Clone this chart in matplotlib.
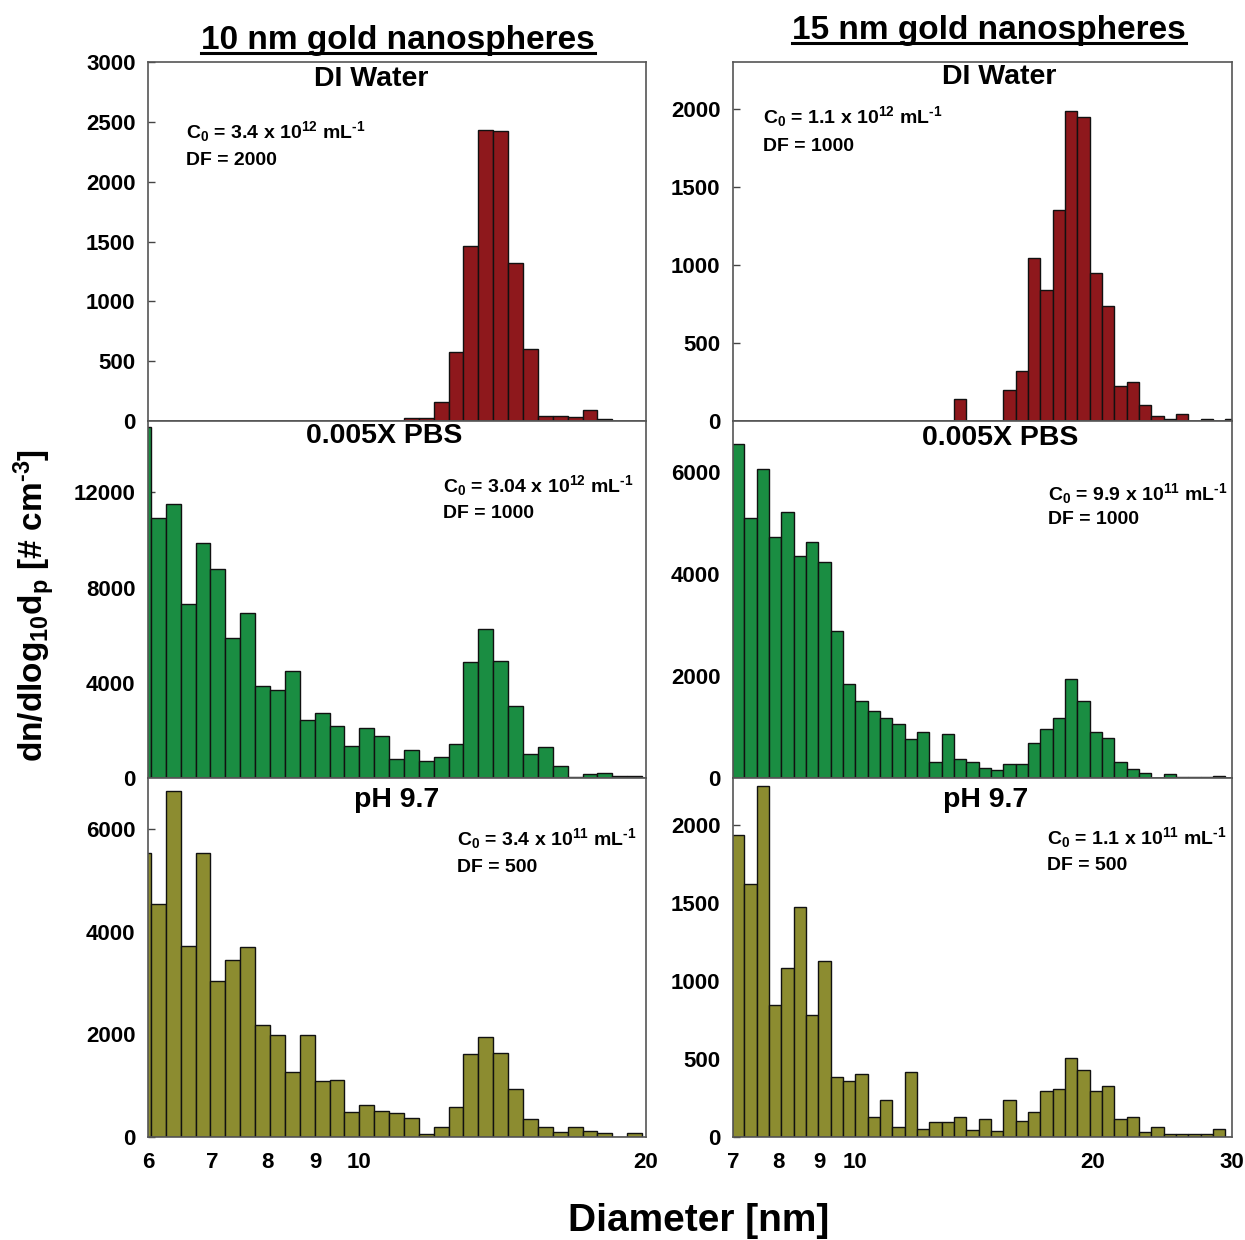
import numpy as np
import matplotlib
matplotlib.use("Agg")
import matplotlib.pyplot as plt
from matplotlib.ticker import FixedLocator, FixedFormatter, NullLocator
from matplotlib.lines import Line2D

plt.rcParams['font.family'] = ['Liberation Sans', 'DejaVu Sans']
plt.rcParams['font.weight'] = 'bold'
plt.rcParams['mathtext.fontset'] = 'custom'
plt.rcParams['mathtext.rm'] = 'Liberation Sans:bold'
plt.rcParams['mathtext.it'] = 'Liberation Sans:bold'
plt.rcParams['mathtext.bf'] = 'Liberation Sans:bold'

# ---- data: SMPS channels (64 per decade), channel index of first bar ----
CH_PER_DECADE = 64

left_first_channel = 49
left_di = [0]*18 + [28, 28, 160, 580, 1460, 2430, 2420, 1320, 605, 40, 40, 35, 90, 14, 0, 0]
left_pbs = [14760, 10940, 11530, 7300, 9860, 8800, 5900, 6930, 3880, 3690, 4510, 2430,
            2730, 2200, 1360, 2110, 1750, 800, 1160, 730, 880, 1410, 4880, 6250, 4910,
            3010, 1010, 1290, 520, 30, 170, 210, 100, 70]
left_ph = [5540, 4550, 6740, 3730, 5530, 3040, 3450, 3700, 2180, 1990, 1270, 1990, 1090,
           1110, 480, 620, 500, 475, 370, 65, 195, 590, 1610, 1950, 1630, 940, 350, 200,
           90, 200, 117, 78, 0, 78]

right_first_channel = 54
right_di = [0]*18 + [140, 0, 0, 0, 197, 319, 1047, 838, 1351, 1985, 1945, 951, 735, 222,
                     250, 101, 30, 15, 47, 0, 11, 0, 11]
right_pbs = [6555, 5093, 6063, 4733, 5211, 4359, 4621, 4228, 2884, 1849, 1501, 1318, 1186,
             1068, 767, 905, 308, 872, 380, 308, 190, 157, 269, 269, 682, 957, 1167, 1947,
             1514, 898, 780, 321, 184, 98, 0, 85, 20, 20, 20, 33, 0]
right_ph = [1938, 1624, 2248, 846, 1083, 1472, 780, 1130, 382, 361, 402, 128, 239, 62, 419,
            53, 98, 94, 128, 47, 118, 41, 239, 103, 160, 297, 308, 509, 432, 295, 329, 115,
            130, 30, 64, 21, 21, 21, 21, 53, 0]

col_titles = ["10 nm gold nanospheres", "15 nm gold nanospheres"]
row_titles = ["DI Water", "0.005X PBS", "pH 9.7"]
left_c0 = [r"C$_{0}$ = 3.4 x 10$^{12}$ mL$^{‐1}$", r"C$_{0}$ = 3.04 x 10$^{12}$ mL$^{‐1}$",
           r"C$_{0}$ = 3.4 x 10$^{11}$ mL$^{‐1}$"]
left_df = ["DF = 2000", "DF = 1000", "DF = 500"]
right_c0 = [r"C$_{0}$ = 1.1 x 10$^{12}$ mL$^{‐1}$", r"C$_{0}$ = 9.9 x 10$^{11}$ mL$^{‐1}$",
            r"C$_{0}$ = 1.1 x 10$^{11}$ mL$^{‐1}$"]
right_df = ["DF = 1000", "DF = 1000", "DF = 500"]

left_xticks = [6, 7, 8, 9, 10, 20]
right_xticks = [7, 8, 9, 10, 20, 30]
left_xlim = (6, 20)
right_xlim = (7, 30)

left_ylims = [3000, 15000, 7000]
right_ylims = [2300, 7000, 2300]
left_yticks = [[0, 500, 1000, 1500, 2000, 2500, 3000], [0, 4000, 8000, 12000], [0, 2000, 4000, 6000]]
right_yticks = [[0, 500, 1000, 1500, 2000], [0, 2000, 4000, 6000], [0, 500, 1000, 1500, 2000]]

row_colors = ["#8E181C", "#1A8D42", "#8C8C30"]

# ---- layout (figure pixels) ----
W, H = 1245, 1240
fig = plt.figure(figsize=(W/100, H/100), dpi=100)
fig.patch.set_facecolor("white")

col_x = [(148, 646), (733, 1232)]
row_y = [(62, 421), (421, 778), (778, 1137)]

def ax_rect(cx, ry):
    x0, x1 = cx
    y0, y1 = ry
    return [x0/W, 1 - y1/H, (x1-x0)/W, (y1-y0)/H]

left_data = [left_di, left_pbs, left_ph]
right_data = [right_di, right_pbs, right_ph]

# annotation positions in axes fractions
left_sub_pos = [(0.448, 0.953), (0.474, 0.958), (0.50, 0.939)]
right_sub_pos = [(0.533, 0.958), (0.535, 0.952), (0.507, 0.939)]
left_c0_pos = [(0.076, 0.805, 0.727), (0.592, 0.818, 0.742), (0.62, 0.831, 0.752)]
right_c0_pos = [(0.06, 0.847, 0.766), (0.631, 0.798, 0.723), (0.629, 0.833, 0.755)]

def draw_panel(ax, values, first_ch, color, xlim, ylim, yticks, xticks, show_x):
    ch = np.arange(first_ch, first_ch + len(values))
    lo = 10.0 ** (ch / CH_PER_DECADE)
    hi = 10.0 ** ((ch + 1) / CH_PER_DECADE)
    ax.bar(lo, values, width=hi - lo, align='edge', color=color,
           edgecolor="#111111", linewidth=1.0, zorder=2)
    ax.set_xscale('log')
    ax.set_xlim(*xlim)
    ax.set_ylim(0, ylim)
    ax.yaxis.set_major_locator(FixedLocator(yticks))
    ax.yaxis.set_major_formatter(FixedFormatter([str(t) for t in yticks]))
    ax.xaxis.set_minor_locator(NullLocator())
    if show_x:
        ax.xaxis.set_major_locator(FixedLocator(xticks))
        ax.xaxis.set_major_formatter(FixedFormatter([str(t) for t in xticks]))
    else:
        ax.xaxis.set_major_locator(NullLocator())
    ax.tick_params(axis='y', direction='in', length=5, width=1, labelsize=16, pad=9, color="#444444")
    ax.tick_params(axis='x', direction='in', length=0, labelsize=16, pad=11)
    for lab in ax.get_xticklabels() + ax.get_yticklabels():
        lab.set_fontweight('bold')
    for sp in ax.spines.values():
        sp.set_color("#555555")
        sp.set_linewidth(1.2)
        sp.set_zorder(3)

for r in range(3):
    axl = fig.add_axes(ax_rect(col_x[0], row_y[r]))
    draw_panel(axl, left_data[r], left_first_channel, row_colors[r], left_xlim,
               left_ylims[r], left_yticks[r], left_xticks, r == 2)
    axl.text(*left_sub_pos[r], row_titles[r], transform=axl.transAxes, ha='center',
             va='center', fontsize=20.5, fontweight='bold')
    x, y1, y2 = left_c0_pos[r]
    axl.text(x, y1, left_c0[r], transform=axl.transAxes, ha='left', va='center',
             fontsize=14, fontweight='bold')
    axl.text(x, y2, left_df[r], transform=axl.transAxes, ha='left', va='center',
             fontsize=14, fontweight='bold')

    axr = fig.add_axes(ax_rect(col_x[1], row_y[r]))
    draw_panel(axr, right_data[r], right_first_channel, row_colors[r], right_xlim,
               right_ylims[r], right_yticks[r], right_xticks, r == 2)
    axr.text(*right_sub_pos[r], row_titles[r], transform=axr.transAxes, ha='center',
             va='center', fontsize=20.5, fontweight='bold')
    x, y1, y2 = right_c0_pos[r]
    axr.text(x, y1, right_c0[r], transform=axr.transAxes, ha='left', va='center',
             fontsize=14, fontweight='bold')
    axr.text(x, y2, right_df[r], transform=axr.transAxes, ha='left', va='center',
             fontsize=14, fontweight='bold')

# column titles (underlined)
title_pos = [(398, 49), (989, 39)]
title_texts = []
for (cx, by), t in zip(title_pos, col_titles):
    tt = fig.text(cx/W, 1 - by/H, t, ha='center', va='baseline', fontsize=24, fontweight='bold')
    title_texts.append((tt, by))

fig.text(35/W, 1 - 605/H, r"dn/dlog$_{10}$d$_{p}$ [# cm$^{‐3}$]", rotation=90,
         ha='center', va='center', fontsize=24, fontweight='bold')
fig.text(699/W, 1 - 1221/H, "Diameter [nm]", ha='center', va='center',
         fontsize=28, fontweight='bold')

fig.canvas.draw()
renderer = fig.canvas.get_renderer()
for tt, by in title_texts:
    bb = tt.get_window_extent(renderer)
    yline = 1 - (by + 4)/H
    fig.add_artist(Line2D([bb.x0/W, bb.x1/W], [yline, yline], color='black',
                          linewidth=2.2, transform=fig.transFigure))

fig.savefig("out.png", dpi=100, facecolor="white")
